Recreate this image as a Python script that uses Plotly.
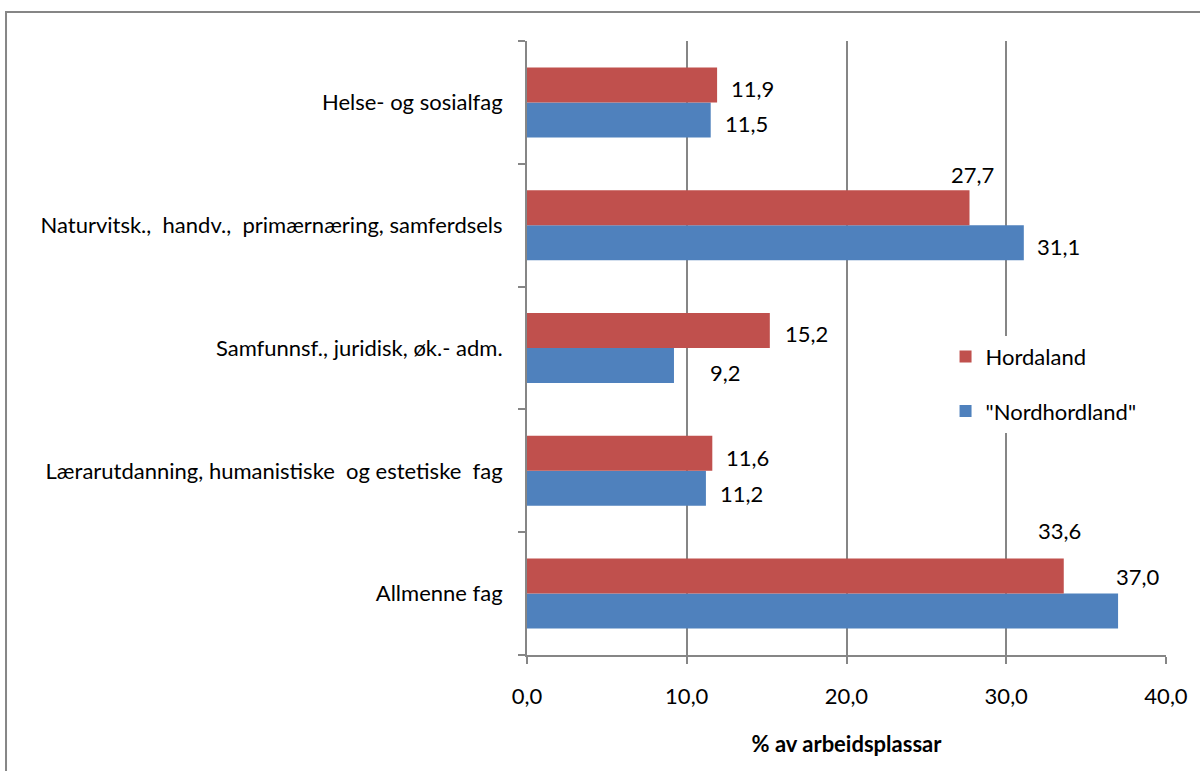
import plotly.graph_objects as go

NB = "\u00a0"
categories = [
    "Allmenne fag",
    "Lærarutdanning, humanistiske" + NB + " og estetiske" + NB + " fag",
    "Samfunnsf., juridisk, øk.- adm.",
    "Naturvitsk.," + NB + " handv.," + NB + " primærnæring, samferdsels",
    "Helse- og sosialfag",
]
nordhordland = [37.0, 11.2, 9.2, 31.1, 11.5]
hordaland = [33.6, 11.6, 15.2, 27.7, 11.9]
x_ticks = [0, 10, 20, 30, 40]
x_tick_labels = ["0,0", "10,0", "20,0", "30,0", "40,0"]

RED = "#C0504D"
BLUE = "#4F81BD"
GRID = "#868686"
FONT = "Lato"

# label placement (pixel offsets), style only
red_lbl = [  # (xshift, yshift, xanchor)
    (-4, 63.6, "center"),
    (12, 13.8, "left"),
    (13, 15.0, "left"),
    (3, 51.2, "center"),
    (12, 14.4, "left"),
]
blue_lbl = [
    (-4, 17.6, "left"),
    (12, -22.2, "left"),
    (34, -24.0, "left"),
    (11, -20.8, "left"),
    (12, -20.6, "left"),
]

def fmt(v):
    return f"{v:.1f}".replace(".", ",")

fig = go.Figure()
fig.add_trace(go.Bar(y=categories, x=nordhordland, orientation="h", name='"Nordhordland"',
                     marker=dict(color=BLUE, line=dict(width=0)),
                     legendgroup="b", legendrank=2))
fig.add_trace(go.Bar(y=categories, x=hordaland, orientation="h", name="Hordaland",
                     marker=dict(color=RED, line=dict(width=0)),
                     legendgroup="a", legendrank=1))

ann = []
for i, c in enumerate(categories):
    xs, ys, xa = red_lbl[i]
    ann.append(dict(x=hordaland[i], y=c, xref="x", yref="y", text=fmt(hordaland[i]),
                    showarrow=False, xanchor=xa, yanchor="middle", xshift=xs, yshift=ys,
                    font=dict(family=FONT, size=22, color="black")))
    xs, ys, xa = blue_lbl[i]
    ann.append(dict(x=nordhordland[i], y=c, xref="x", yref="y", text=fmt(nordhordland[i]),
                    showarrow=False, xanchor=xa, yanchor="middle", xshift=xs, yshift=ys,
                    font=dict(family=FONT, size=22, color="black")))

fig.update_layout(
    width=1200, height=771,
    margin=dict(l=527, r=34, t=41, b=116),
    paper_bgcolor="white", plot_bgcolor="white",
    barmode="group", bargap=0.43, bargroupgap=0,
    font=dict(family=FONT, size=22, color="black"),
    annotations=ann,
    showlegend=True,
    legend=dict(x=0.655, xanchor="left", y=0.52, yanchor="top",
                traceorder="grouped", tracegroupgap=23, itemsizing="constant",
                bgcolor="white", borderwidth=0,
                font=dict(family=FONT, size=22, color="black")),
    xaxis=dict(range=[0, 40], tickvals=x_ticks, ticktext=x_tick_labels,
               showgrid=True, gridcolor=GRID, gridwidth=1.5,
               showline=True, linecolor=GRID, linewidth=2,
               ticks="outside", ticklen=7, tickcolor=GRID, tickwidth=1.5,
               ticklabelstandoff=14, zeroline=False,
               title=dict(text="<b>% av arbeidsplassar</b>", standoff=28,
                          font=dict(family=FONT, size=22, color="black"))),
    yaxis=dict(showgrid=False, showline=True, linecolor=GRID, linewidth=2,
               ticks="outside", ticklen=7, tickcolor=GRID, tickwidth=1.5,
               tickson="boundaries", ticklabelstandoff=18,
               categoryorder="array", categoryarray=categories),
    shapes=[dict(type="rect", xref="paper", yref="paper",
                 x0=-0.8153, x1=1.2, y0=-0.3, y1=1.0472,
                 line=dict(color=GRID, width=2), fillcolor="rgba(0,0,0,0)", layer="above")],
)

fig.write_html("out.html", config={"displayModeBar": False},
               post_script="document.body.style.margin='0px';document.body.style.overflow='hidden';")
